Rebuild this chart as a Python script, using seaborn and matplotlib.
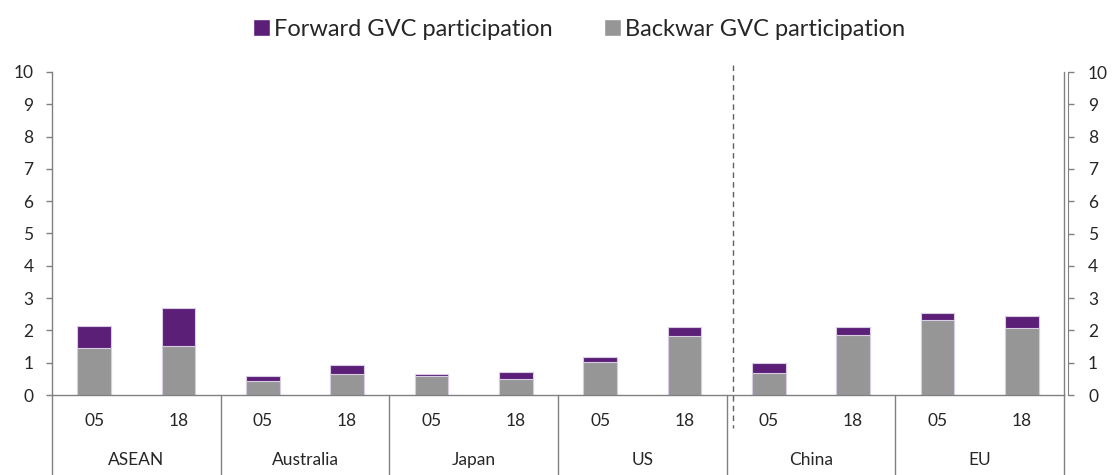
import matplotlib
matplotlib.use("Agg")
import numpy as np
import pandas as pd
import matplotlib.pyplot as plt
import matplotlib.transforms as mtransforms
from matplotlib.patches import Patch
import seaborn as sns

# data
regions = ["ASEAN", "Australia", "Japan", "US", "China", "EU"]
years = ["05", "18"]
backward = [1.45, 1.51, 0.44, 0.65, 0.58, 0.49, 1.03, 1.84, 0.69, 1.86, 2.33, 2.06]
forward = [0.68, 1.17, 0.14, 0.27, 0.08, 0.22, 0.14, 0.28, 0.31, 0.26, 0.20, 0.40]

purple = "#5b1f78"
grey = "#969696"
axis_col = "#808080"

sns.set_style("white")
plt.rcParams["font.family"] = ["Lato", "DejaVu Sans"]

df = pd.DataFrame({
    "region": np.repeat(regions, 2),
    "year": years * len(regions),
    "backward": backward,
    "forward": forward,
})
df["slot"] = df["region"] + " " + df["year"]
df["total"] = df["backward"] + df["forward"]
order = list(df["slot"])

fig = plt.figure(figsize=(11.12, 4.75), dpi=100)
ax = fig.add_axes([52 / 1112, 80 / 475, 1012 / 1112, 323 / 475])

# stacked bars: total in purple, backward on top in grey
sns.barplot(data=df, x="slot", y="total", order=order, color=purple, saturation=1,
            width=0.4, edgecolor="#d8cce2", linewidth=0.8, ax=ax)
sns.barplot(data=df, x="slot", y="backward", order=order, color=grey, saturation=1,
            width=0.4, edgecolor="#d8cce2", linewidth=0.8, ax=ax)

ax.set_xlim(-0.5, len(order) - 0.5)
ax.set_ylim(0, 10)
ax.set_yticks(range(0, 11))
ax.set_xlabel("")
ax.set_ylabel("")
ax.set_xticks(range(len(order)))
ax.set_xticklabels(list(df["year"]), fontsize=12.5)
ax.tick_params(axis="x", length=0, pad=13)
ax.tick_params(axis="y", direction="out", length=4.3, width=1, color=axis_col,
               labelsize=12.5, pad=9, left=True)

for side in ["left", "right", "bottom"]:
    ax.spines[side].set_color(axis_col)
    ax.spines[side].set_linewidth(1)
ax.spines["top"].set_visible(False)

ax2 = ax.twinx()
ax2.set_ylim(0, 10)
ax2.set_yticks(range(0, 11))
ax2.tick_params(axis="y", direction="out", length=4.3, width=1, color=axis_col,
                labelsize=12.5, pad=10)
for side in ["left", "top", "bottom"]:
    ax2.spines[side].set_visible(False)
ax2.spines["right"].set_color(axis_col)
ax2.spines["right"].set_position(("outward", 3))

# two-level category axis
trans = mtransforms.blended_transform_factory(ax.transData, ax.transAxes)
for b in np.arange(-0.5, len(order), 2):
    ax.plot([b, b], [0, -0.25], transform=trans, clip_on=False, color=axis_col, lw=1)
for i, r in enumerate(regions):
    ax.text(2 * i + 0.5, -0.201, r, transform=trans, ha="center", va="center", fontsize=12.5)

# dashed divider between US and China
ax.plot([7.58, 7.58], [1.022, -0.102], transform=trans, clip_on=False,
        color="#606060", lw=1, linestyle=(0, (4, 3)))

handles = [Patch(facecolor=purple, label="Forward GVC participation"),
           Patch(facecolor=grey, label="Backwar GVC participation")]
fig.legend(handles=handles, loc="center", bbox_to_anchor=(0.5207, 1 - 29 / 475), ncol=2,
           frameon=False, fontsize=17, handlelength=0.72, handleheight=0.72,
           handletextpad=0.15, columnspacing=2.2, borderpad=0)

fig.savefig("out.png", dpi=100)
